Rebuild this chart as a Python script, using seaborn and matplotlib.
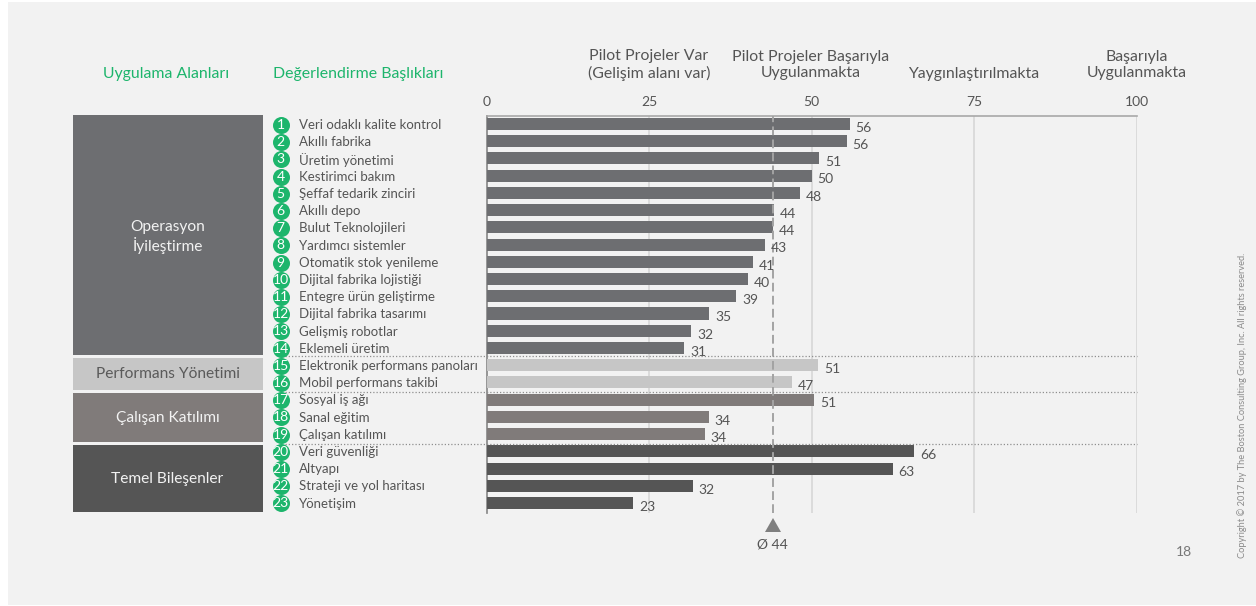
import matplotlib
matplotlib.use("Agg")
import matplotlib.pyplot as plt
from matplotlib.patches import Rectangle
import pandas as pd
import seaborn as sns

labels = ["Veri odaklı kalite kontrol","Akıllı fabrika","Üretim yönetimi","Kestirimci bakım","Şeffaf tedarik zinciri",
          "Akıllı depo","Bulut Teknolojileri","Yardımcı sistemler","Otomatik stok yenileme","Dijital fabrika lojistiği",
          "Entegre ürün geliştirme","Dijital fabrika tasarımı","Gelişmiş robotlar","Eklemeli üretim",
          "Elektronik performans panoları","Mobil performans takibi","Sosyal iş ağı","Sanal eğitim","Çalışan katılımı",
          "Veri güvenliği","Altyapı","Strateji ve yol haritası","Yönetişim"]
drawn = [55.9,55.4,51.2,50.0,48.2,44.2,44.1,42.8,41.0,40.2,38.4,34.3,31.5,30.4,51.0,47.0,50.4,34.2,33.6,65.8,62.5,31.7,22.6]
shown = [56,56,51,50,48,44,44,43,41,40,39,35,32,31,51,47,51,34,34,66,63,32,23]
groups = ["op"]*14 + ["perf"]*2 + ["cal"]*3 + ["tem"]*4
palette = {"op":"#6d6e71","perf":"#c6c6c6","cal":"#807b7a","tem":"#555555"}
band_names = ["Operasyon\nİyileştirme","Performans Yönetimi","Çalışan Katılımı","Temel Bileşenler"]
band_tops = [115,358,392.5,444.5]
band_bots = [355,390,441.5,512]
band_cols = ["#6d6e71","#c6c6c6","#807b7a","#555555"]
band_text = ["#f2f2f2","#5a5a5a","#f2f2f2","#f2f2f2"]
ticks = [0,25,50,75,100]
stage_labels = ["Pilot Projeler Var\n(Gelişim alanı var)","Pilot Projeler Başarıyla\nUygulanmakta","Yaygınlaştırılmakta","Başarıyla\nUygulanmakta"]
stage_x = [649,811,974,1137]
mean_val = 44

W,H = 1256,606
sns.set_theme(style="white")
plt.rcParams["font.family"] = ["Lato","DejaVu Sans"]
fig = plt.figure(figsize=(W/100,H/100),dpi=100,facecolor="white")
bg = fig.add_axes([0,0,1,1]); bg.set_xlim(0,W); bg.set_ylim(H,0); bg.axis("off")
bg.add_patch(Rectangle((8,2),W-8,H-3,fc="#f2f2f2",ec="none"))

x0,x1 = 486.5,1136.5
y_top,y_bot = 115.5,512.5
ax = fig.add_axes([x0/W,1-y_bot/H,(x1-x0)/W,(y_bot-y_top)/H])
ax.patch.set_alpha(0)
df = pd.DataFrame({"label":[f"{i}" for i in range(len(labels))],"v":drawn,"g":groups})
sns.barplot(data=df,y="label",x="v",hue="g",palette=palette,dodge=False,legend=False,width=0.70,ax=ax,saturation=1,zorder=3,linewidth=0)
ax.set_xlim(0,100); ax.set_ylim(22.55,-0.49)
ax.set_xlabel(""); ax.set_ylabel("")
ax.set_yticks([]); ax.set_xticks(ticks)
ax.set_xticklabels(ticks,fontsize=10,color="#555555")
ax.xaxis.tick_top(); ax.tick_params(axis="x",length=0,pad=5.5)
for s in ["right","bottom"]: ax.spines[s].set_visible(False)
ax.spines["top"].set_color("#a8a8a8"); ax.spines["top"].set_linewidth(1.2)
ax.spines["left"].set_color("#8a8a8a")
for t in ticks[1:]:
    ax.axvline(t,color="#d4d4d4",lw=1.1,zorder=1)
for i,(d,s) in enumerate(zip(drawn,shown)):
    ax.text(d+0.9,i+0.22,str(s),fontsize=10,color="#555555",va="center",ha="left",zorder=6)
ax.axvline(mean_val,color="#a3a3a3",lw=1.4,ls=(0,(4.5,2.2)),zorder=5)

bg.set_zorder(0); ax.set_zorder(1)
band_yc = [237,374.5,418,478.5]
for t,b,c,n,tc,yc in zip(band_tops,band_bots,band_cols,band_names,band_text,band_yc):
    bg.add_patch(Rectangle((73,t),189.5,b-t,fc=c,ec="none"))
    bg.text(167.5,yc,n,color=tc,fontsize=11.2,ha="center",va="center",linespacing=1.15)
fg = fig.add_axes([0,0,1,1]); fg.set_xlim(0,W); fg.set_ylim(H,0); fg.axis("off"); fg.patch.set_alpha(0); fg.set_zorder(2)
row_y = [125+i*17.2 for i in range(23)]
for i,(lab,y) in enumerate(zip(labels,row_y)):
    fg.scatter([280.5],[y],s=150,color="#1db56c",zorder=3,lw=0)
    fg.text(280.5,y,str(i+1),color="white",fontsize=10,ha="center",va="center",zorder=4)
    fg.text(299,y+0.3,lab,color="#555555",fontsize=9.55,ha="left",va="center",zorder=4)
for y in [355.7,391.7,443.7]:
    fg.plot([285,1137],[y,y],color="#8f8f8f",lw=0.9,ls=(0,(1,1.6)),zorder=2)
fg.text(166.5,74,"Uygulama Alanları",color="#1db56c",fontsize=11.4,ha="center",va="center")
fg.text(358,74,"Değerlendirme Başlıkları",color="#1db56c",fontsize=11.4,ha="center",va="center")
for x,l in zip(stage_x,stage_labels):
    n = l.count("\n")
    fg.text(x,65 if n else 74,l,color="#555555",fontsize=11.4,ha="center",va="center",linespacing=1.25)
fg.fill([773,765,781],[518,532,532],color="#7f7f7f",lw=0)
fg.text(772.5,544.5,"Ø 44",color="#555555",fontsize=10,ha="center",va="center")
fg.text(1184,552,"18",color="#777777",fontsize=10,ha="center",va="center")
fg.text(1242,405,"Copyright © 2017 by The Boston Consulting Group, Inc. All rights reserved.",color="#8a8a8a",fontsize=6.65,rotation=90,ha="center",va="center")
fig.savefig("out.png",dpi=100,facecolor="white")
